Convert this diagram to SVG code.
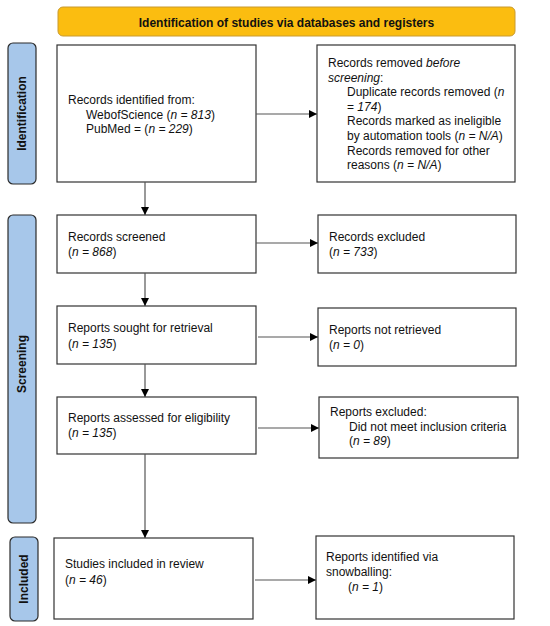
<svg xmlns="http://www.w3.org/2000/svg" width="550" height="626" viewBox="0 0 550 626">
<style>
.box{fill:#fff;stroke:#333;stroke-width:1.2}
.lab{fill:#a7c7ea;stroke:#2b2b2b;stroke-width:1.2}
.hdr{fill:#fbbd10;stroke:#c99a2e;stroke-width:1}
text{font-family:"Liberation Sans",Arial,sans-serif;font-size:12px;fill:#111}
.b{font-weight:bold}
.c{stroke:#555;stroke-width:1.2;fill:none}
</style>
<defs>
<marker id="ah" viewBox="0 0 10 10" refX="10" refY="5" markerWidth="8" markerHeight="8" markerUnits="userSpaceOnUse" orient="auto">
<path d="M0,0 L10,5 L0,10 z" fill="#000"/>
</marker>
</defs>
<g id="header">
<rect class="hdr" x="58" y="7" width="457" height="29" rx="5"/>
<text class="b" x="286.5" y="27" text-anchor="middle">Identification of studies via databases and registers</text>
</g>
<g id="label-identification">
<rect class="lab" x="8" y="43" width="28" height="141" rx="5"/>
<text class="b" transform="translate(26,113.5) rotate(-90)" text-anchor="middle">Identification</text>
</g>
<g id="label-screening">
<rect class="lab" x="8" y="215" width="28" height="308" rx="5"/>
<text class="b" transform="translate(26,364) rotate(-90)" text-anchor="middle">Screening</text>
</g>
<g id="label-included">
<rect class="lab" x="10" y="537" width="28" height="84" rx="5"/>
<text class="b" transform="translate(28,579) rotate(-90)" text-anchor="middle">Included</text>
</g>
<g id="records-identified">
<rect class="box" x="57" y="45" width="199" height="137"/>
<text x="68" y="104">Records identified from:</text>
<text x="86" y="118.5">WebofScience (<tspan font-style="italic">n = 813</tspan>)</text>
<text x="86" y="133">PubMed = (<tspan font-style="italic">n = 229</tspan>)</text>
</g>
<g id="records-removed">
<rect class="box" x="317" y="45" width="198" height="137"/>
<text x="328" y="67">Records removed <tspan font-style="italic">before</tspan></text>
<text x="328" y="81.6"><tspan font-style="italic">screening</tspan>:</text>
<text x="347" y="96.2">Duplicate records removed (<tspan font-style="italic">n</tspan></text>
<text x="347" y="110.8">= <tspan font-style="italic">174</tspan>)</text>
<text x="347" y="125.4">Records marked as ineligible</text>
<text x="347" y="140">by automation tools (<tspan font-style="italic">n = N/A</tspan>)</text>
<text x="347" y="154.6">Records removed for other</text>
<text x="347" y="169.2">reasons (<tspan font-style="italic">n = N/A</tspan>)</text>
</g>
<g id="records-screened">
<rect class="box" x="57" y="215" width="199" height="58"/>
<text x="68" y="241">Records screened</text>
<text x="68" y="256">(<tspan font-style="italic">n = 868</tspan>)</text>
</g>
<g id="records-excluded">
<rect class="box" x="318" y="215" width="198" height="58"/>
<text x="329" y="241">Records excluded</text>
<text x="329" y="256">(<tspan font-style="italic">n = 733</tspan>)</text>
</g>
<g id="reports-sought">
<rect class="box" x="57" y="306" width="199" height="58"/>
<text x="68" y="332">Reports sought for retrieval</text>
<text x="68" y="348">(<tspan font-style="italic">n = 135</tspan>)</text>
</g>
<g id="reports-not-retrieved">
<rect class="box" x="318" y="308" width="198" height="58"/>
<text x="329" y="334">Reports not retrieved</text>
<text x="329" y="349">(<tspan font-style="italic">n = 0</tspan>)</text>
</g>
<g id="reports-assessed">
<rect class="box" x="57" y="397" width="199" height="57"/>
<text x="68" y="422">Reports assessed for eligibility</text>
<text x="68" y="437">(<tspan font-style="italic">n = 135</tspan>)</text>
</g>
<g id="reports-excluded">
<rect class="box" x="319" y="397" width="199" height="61"/>
<text x="330" y="416">Reports excluded:</text>
<text x="349" y="430.5">Did not meet inclusion criteria</text>
<text x="349" y="445">(<tspan font-style="italic">n = 89</tspan>)</text>
</g>
<g id="studies-included">
<rect class="box" x="54" y="538" width="199" height="81"/>
<text x="65" y="568">Studies included in review</text>
<text x="65" y="584">(<tspan font-style="italic">n = 46</tspan>)</text>
</g>
<g id="snowballing">
<rect class="box" x="316" y="536" width="198" height="83"/>
<text x="326" y="561">Reports identified via</text>
<text x="326" y="576">snowballing:</text>
<text x="348" y="591">(<tspan font-style="italic">n = 1</tspan>)</text>
</g>
<g id="connectors">
<line class="c" x1="256" y1="114" x2="317" y2="114" marker-end="url(#ah)"/>
<line class="c" x1="145" y1="182" x2="145" y2="215" marker-end="url(#ah)"/>
<line class="c" x1="256" y1="243" x2="318" y2="243" marker-end="url(#ah)"/>
<line class="c" x1="145" y1="273" x2="145" y2="306" marker-end="url(#ah)"/>
<line class="c" x1="258" y1="337" x2="318" y2="337" marker-end="url(#ah)"/>
<line class="c" x1="145" y1="364" x2="145" y2="397" marker-end="url(#ah)"/>
<line class="c" x1="258" y1="428" x2="319" y2="428" marker-end="url(#ah)"/>
<line class="c" x1="145" y1="454" x2="145" y2="538" marker-end="url(#ah)"/>
<line class="c" x1="255" y1="580" x2="316" y2="580" marker-end="url(#ah)"/>
</g>
</svg>
